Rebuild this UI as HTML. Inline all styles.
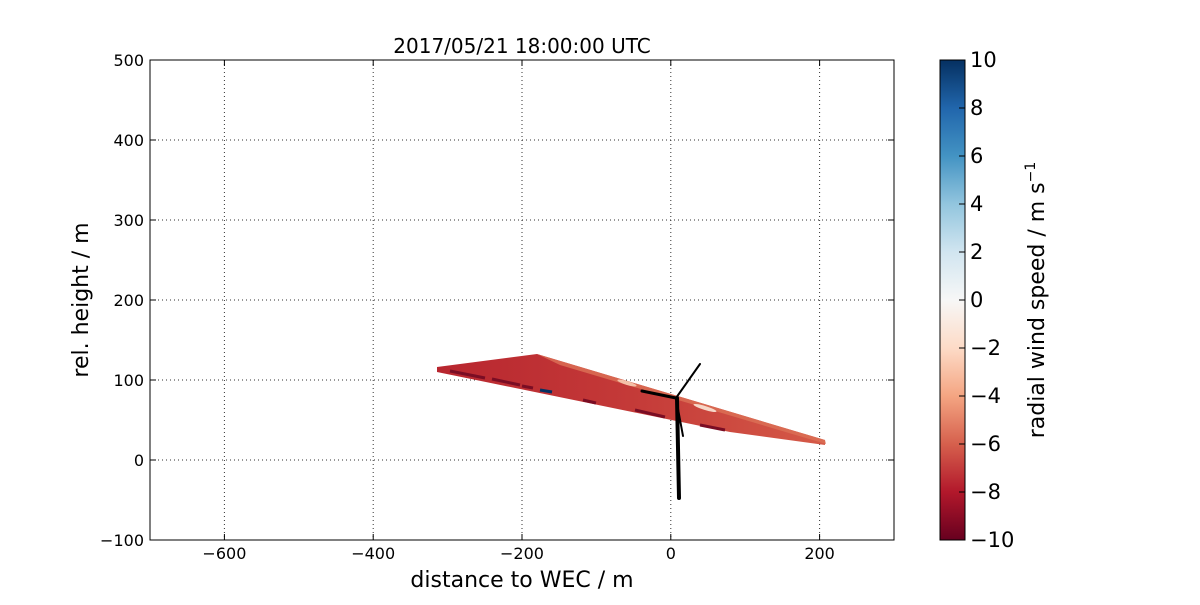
<!DOCTYPE html>
<html><head><style>
body{margin:0;background:#fff;}
svg text{font-family:"DejaVu Sans","Liberation Sans",sans-serif;}
</style></head><body>
<svg width="1200" height="600" xmlns="http://www.w3.org/2000/svg">
<defs>
<linearGradient id="cb" x1="0" y1="1" x2="0" y2="0">
<stop offset="0" stop-color="#67001f"/>
<stop offset="0.1" stop-color="#b2182b"/>
<stop offset="0.2" stop-color="#d6604d"/>
<stop offset="0.3" stop-color="#f4a582"/>
<stop offset="0.4" stop-color="#fddbc7"/>
<stop offset="0.5" stop-color="#f7f7f7"/>
<stop offset="0.6" stop-color="#d1e5f0"/>
<stop offset="0.7" stop-color="#92c5de"/>
<stop offset="0.8" stop-color="#4393c3"/>
<stop offset="0.9" stop-color="#2166ac"/>
<stop offset="1" stop-color="#053061"/>
</linearGradient>
<linearGradient id="wg" x1="0" y1="0" x2="1" y2="0">
<stop offset="0" stop-color="#b8262f"/>
<stop offset="0.5" stop-color="#c43a38"/>
<stop offset="1" stop-color="#d55a48"/>
</linearGradient>
</defs>
<g stroke="#000" stroke-width="1" stroke-dasharray="1,3" opacity="0.8">
<line x1="224.4" y1="60" x2="224.4" y2="540"/><line x1="373.2" y1="60" x2="373.2" y2="540"/><line x1="522" y1="60" x2="522" y2="540"/><line x1="670.8" y1="60" x2="670.8" y2="540"/><line x1="819.6" y1="60" x2="819.6" y2="540"/>
<line x1="150" y1="140" x2="894" y2="140"/><line x1="150" y1="220" x2="894" y2="220"/><line x1="150" y1="300" x2="894" y2="300"/><line x1="150" y1="380" x2="894" y2="380"/><line x1="150" y1="460" x2="894" y2="460"/>
</g>
<polygon points="437,367 537,354 825,440 825,445 730,432 437,372" fill="url(#wg)"/>
<polygon points="537,354 825,440 826,444 560,365" fill="#db6e55" opacity="0.85"/>
<ellipse cx="627" cy="383" rx="10" ry="2" fill="#f4c0a8" transform="rotate(17 627 383)"/>
<ellipse cx="705" cy="408" rx="12" ry="2" fill="#f6d7c8" transform="rotate(17 705 408)"/>
<g stroke="#7a0d24" stroke-width="3">
<line x1="450" y1="371" x2="485" y2="378"/><line x1="492" y1="379" x2="520" y2="385"/><line x1="522" y1="386" x2="533" y2="388"/><line x1="583" y1="400" x2="596" y2="403"/><line x1="635" y1="410" x2="665" y2="417"/><line x1="700" y1="425" x2="725" y2="430"/>
</g>
<line x1="540" y1="390" x2="552" y2="392" stroke="#053061" stroke-width="3"/>
<g stroke="#000" fill="none" stroke-linecap="round">
<path d="M677,398 L679,498" stroke-width="4"/>
<path d="M676,398 L700,364" stroke-width="2"/>
<path d="M676,398 L642,391" stroke-width="3"/>
<path d="M676,398 L683,436" stroke-width="2"/>
</g>
<rect x="150" y="60" width="744" height="480" fill="none" stroke="#000" stroke-width="1"/>
<g stroke="#000">
<line x1="224.4" y1="540" x2="224.4" y2="534"/><line x1="373.2" y1="540" x2="373.2" y2="534"/><line x1="522" y1="540" x2="522" y2="534"/><line x1="670.8" y1="540" x2="670.8" y2="534"/><line x1="819.6" y1="540" x2="819.6" y2="534"/>
<line x1="224.4" y1="60" x2="224.4" y2="66"/><line x1="373.2" y1="60" x2="373.2" y2="66"/><line x1="522" y1="60" x2="522" y2="66"/><line x1="670.8" y1="60" x2="670.8" y2="66"/><line x1="819.6" y1="60" x2="819.6" y2="66"/>
<line x1="150" y1="140" x2="156" y2="140"/><line x1="150" y1="220" x2="156" y2="220"/><line x1="150" y1="300" x2="156" y2="300"/><line x1="150" y1="380" x2="156" y2="380"/><line x1="150" y1="460" x2="156" y2="460"/>
<line x1="894" y1="140" x2="888" y2="140"/><line x1="894" y1="220" x2="888" y2="220"/><line x1="894" y1="300" x2="888" y2="300"/><line x1="894" y1="380" x2="888" y2="380"/><line x1="894" y1="460" x2="888" y2="460"/>
</g>
<g font-size="16" text-anchor="middle">
<text x="224.4" y="559">−600</text><text x="373.2" y="559">−400</text><text x="522" y="559">−200</text><text x="670.8" y="559">0</text><text x="819.6" y="559">200</text>
</g>
<g font-size="16" text-anchor="end">
<text x="144" y="66">500</text><text x="144" y="146">400</text><text x="144" y="226">300</text><text x="144" y="306">200</text><text x="144" y="386">100</text><text x="144" y="466">0</text><text x="144" y="546">−100</text>
</g>
<text x="522" y="53" font-size="20" text-anchor="middle">2017/05/21 18:00:00 UTC</text>
<text x="522" y="587" font-size="22" text-anchor="middle">distance to WEC / m</text>
<text x="0" y="0" font-size="22" text-anchor="middle" transform="translate(88 300) rotate(-90)">rel. height / m</text>
<rect x="940" y="60" width="25" height="480" fill="url(#cb)" stroke="#000" stroke-width="1"/>
<g font-size="21">
<text x="970" y="67">10</text><text x="970" y="115">8</text><text x="970" y="163">6</text><text x="970" y="211">4</text><text x="970" y="259">2</text><text x="970" y="307">0</text><text x="970" y="355">−2</text><text x="970" y="403">−4</text><text x="970" y="451">−6</text><text x="970" y="499">−8</text><text x="970" y="547">−10</text>
</g>
<g stroke="#000"><line x1="959" y1="108" x2="965" y2="108"/><line x1="959" y1="156" x2="965" y2="156"/><line x1="959" y1="204" x2="965" y2="204"/><line x1="959" y1="252" x2="965" y2="252"/><line x1="959" y1="300" x2="965" y2="300"/><line x1="959" y1="348" x2="965" y2="348"/><line x1="959" y1="396" x2="965" y2="396"/><line x1="959" y1="444" x2="965" y2="444"/><line x1="959" y1="492" x2="965" y2="492"/></g>
<text x="0" y="0" font-size="22" text-anchor="middle" transform="translate(1044 300) rotate(-90)">radial wind speed / m s<tspan dy="-9" font-size="14">−1</tspan></text>
</svg>
</body></html>
